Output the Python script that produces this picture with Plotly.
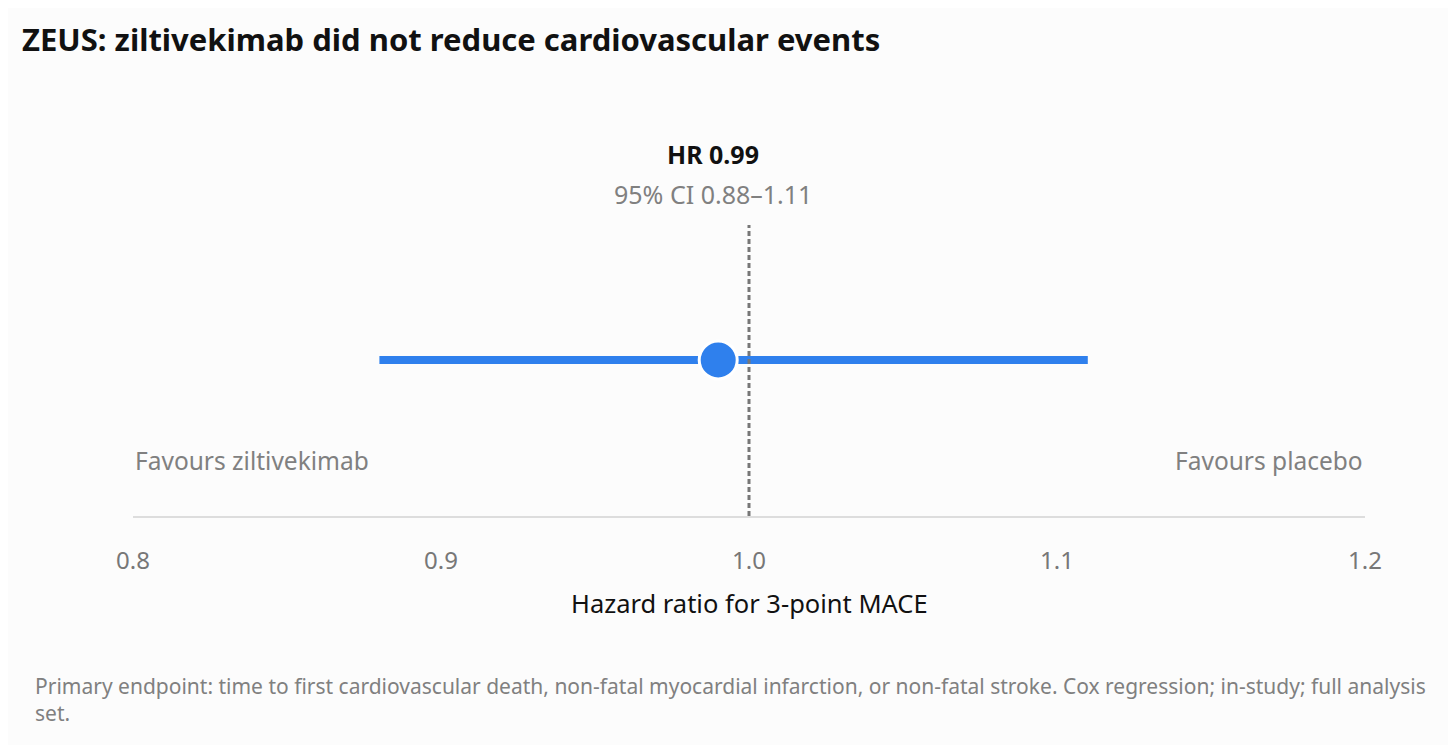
import plotly.graph_objects as go

# Data
hr = [0.99]
ci_low = [0.88]
ci_high = [1.11]
row_y = [0]
ref_x = [1.0, 1.0]
ref_y = [-1.56, 1.35]
tick_vals = [0.8, 0.9, 1.0, 1.1, 1.2]
tick_text = ["0.8", "0.9", "1.0", "1.1", "1.2"]

FONT = "Segoe UI, Noto Sans, Open Sans, sans-serif"
BLUE = "#2f80ed"
OFF = 8  # page body offset

fig = go.Figure()

# CI line
fig.add_trace(go.Scatter(
    x=[ci_low[0], ci_high[0]], y=[row_y[0], row_y[0]],
    mode="lines", line=dict(color=BLUE, width=8),
    hoverinfo="skip", showlegend=False, cliponaxis=False,
))
# reference dashed line
fig.add_trace(go.Scatter(
    x=ref_x, y=ref_y, mode="lines",
    line=dict(color="#777777", width=3, dash="5px,3px"),
    hoverinfo="skip", showlegend=False, cliponaxis=False,
))
# point estimate
fig.add_trace(go.Scatter(
    x=hr, y=row_y, mode="markers",
    marker=dict(color=BLUE, size=38, line=dict(color="white", width=3)),
    showlegend=False, cliponaxis=False,
))

annotations = [
    dict(x=hr[0], y=1.244, xref="x", yref="paper", text="<b>HR 0.99</b>",
         showarrow=False, xanchor="center", yanchor="middle", xshift=-5,
         font=dict(family=FONT, size=25, color="#111111")),
    dict(x=hr[0], y=1.107, xref="x", yref="paper", text="95% CI 0.88–1.11",
         showarrow=False, xanchor="center", yanchor="middle", xshift=-5,
         font=dict(family=FONT, size=25, color="#808080")),
    dict(x=0, y=0.192, xref="paper", yref="paper", text="Favours ziltivekimab",
         showarrow=False, xanchor="left", yanchor="middle",
         font=dict(family=FONT, size=24.5, color="#808080")),
    dict(x=1, y=0.192, xref="paper", yref="paper", text="Favours placebo",
         showarrow=False, xanchor="right", yanchor="middle",
         font=dict(family=FONT, size=24.5, color="#808080")),
    dict(x=0.5, y=-0.299, xref="paper", yref="paper", text="Hazard ratio for 3-point MACE",
         showarrow=False, xanchor="center", yanchor="middle",
         font=dict(family=FONT, size=25.5, color="#111111")),
    dict(x=-0.0812, y=-0.530, xref="paper", yref="paper",
         text="Primary endpoint: time to first cardiovascular death, non-fatal myocardial infarction, or non-fatal stroke. Cox regression; in-study; full analysis<br>set.",
         showarrow=False, xanchor="left", yanchor="top", align="left",
         font=dict(family=FONT, size=21, color="#808080")),
]

fig.update_layout(
    width=1456, height=745,
    paper_bgcolor="#fcfcfc", plot_bgcolor="#fcfcfc",
    margin=dict(l=133 - OFF, r=91 + OFF, t=225 - OFF, b=229 + OFF),
    title=dict(text="<b>ZEUS: ziltivekimab did not reduce cardiovascular events</b>",
               x=(22 - OFF) / 1456, xanchor="left", xref="container",
               y=1 - (40 - OFF) / 745, yanchor="middle",
               font=dict(family=FONT, size=31, color="#111111")),
    xaxis=dict(range=[0.8, 1.2], tickvals=tick_vals, ticktext=tick_text,
               showgrid=False, zeroline=False, showline=True,
               linecolor="#dddddd", linewidth=1.5, ticks="",
               ticklabelstandoff=22,
               tickfont=dict(family=FONT, size=24, color="#777777"),
               fixedrange=True),
    yaxis=dict(range=[ref_y[0], ref_y[1]], visible=False, fixedrange=True),
    annotations=annotations,
    showlegend=False,
)

fig.write_html("out.html")
